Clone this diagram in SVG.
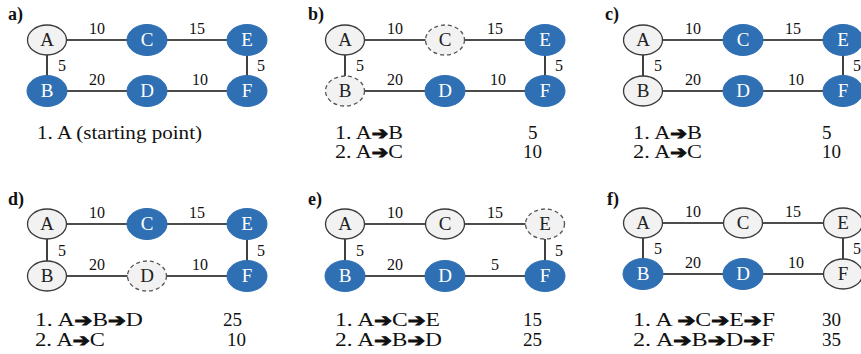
<svg xmlns="http://www.w3.org/2000/svg" width="861" height="354" viewBox="0 0 861 354" font-family="Liberation Serif">
<style>
.lt{fill:#f2f2f2;stroke:#3a3a3a;stroke-width:1.3}
.bl{fill:#2f6fb3;stroke:#2f6fb3;stroke-width:1}
.ds{fill:#f2f2f2;stroke:#555;stroke-width:1.3;stroke-dasharray:4 3}
.e{stroke:#111;stroke-width:1.6}
text{fill:#111}
.nl{font-size:19px;text-anchor:middle;fill:#222}
.nw{fill:#fff}
.w{font-size:16px}
.m{text-anchor:middle}
.p{font-size:18px;font-weight:bold}
.t{font-size:19px}
.ar{font-family:'DejaVu Sans',sans-serif;font-weight:bold;font-size:17px;stroke:#111;stroke-width:1}
</style>
<rect width="861" height="354" fill="#fff"/>

<!-- Panel a -->
<g id="panel-a" transform="translate(47,40)" font-family="Liberation Serif">
<text class="p" x="-39" y="-20">a)</text>
<g id="a-edges">
<line class="e" x1="0" y1="0" x2="200" y2="0"/>
<line class="e" x1="0" y1="51" x2="200" y2="51"/>
<line class="e" x1="0" y1="0" x2="0" y2="51"/>
<line class="e" x1="200" y1="0" x2="200" y2="51"/>
<text class="w m" x="50" y="-6">10</text>
<text class="w m" x="150" y="-6">15</text>
<text class="w" x="11" y="31">5</text>
<text class="w m" x="50" y="45">20</text>
<text class="w m" x="153" y="45">10</text>
<text class="w" x="210" y="31">5</text>
</g>
<g id="a-A"><ellipse class="lt" cx="0" cy="0" rx="19.5" ry="15"/><text class="nl" x="0" y="6">A</text></g>
<g id="a-C"><ellipse class="bl" cx="100" cy="0" rx="20" ry="15.5"/><text class="nl nw" x="100" y="6">C</text></g>
<g id="a-E"><ellipse class="bl" cx="200" cy="0" rx="20" ry="15.5"/><text class="nl nw" x="200" y="6">E</text></g>
<g id="a-B"><ellipse class="bl" cx="0" cy="51" rx="20" ry="15.5"/><text class="nl nw" x="0" y="57">B</text></g>
<g id="a-D"><ellipse class="bl" cx="100" cy="51" rx="20" ry="15.5"/><text class="nl nw" x="100" y="57">D</text></g>
<g id="a-F"><ellipse class="bl" cx="200" cy="51" rx="20" ry="15.5"/><text class="nl nw" x="200" y="57">F</text></g>
<text class="t" x="-10" y="99" textLength="165" lengthAdjust="spacingAndGlyphs">1. A (starting point)</text>
</g>

<!-- Panel b -->
<g id="panel-b" transform="translate(345,40)" font-family="Liberation Serif">
<text class="p" x="-37" y="-20">b)</text>
<g id="b-edges">
<line class="e" x1="0" y1="0" x2="200" y2="0"/>
<line class="e" x1="0" y1="51" x2="200" y2="51"/>
<line class="e" x1="0" y1="0" x2="0" y2="51"/>
<line class="e" x1="200" y1="0" x2="200" y2="51"/>
<text class="w m" x="50" y="-6">10</text>
<text class="w m" x="150" y="-6">15</text>
<text class="w" x="11" y="31">5</text>
<text class="w m" x="50" y="45">20</text>
<text class="w m" x="153" y="45">10</text>
<text class="w" x="210" y="31">5</text>
</g>
<g id="b-A"><ellipse class="lt" cx="0" cy="0" rx="19.5" ry="15"/><text class="nl" x="0" y="6">A</text></g>
<g id="b-C"><ellipse class="ds" cx="100" cy="0" rx="19.5" ry="15"/><text class="nl" x="100" y="6">C</text></g>
<g id="b-E"><ellipse class="bl" cx="200" cy="0" rx="20" ry="15.5"/><text class="nl nw" x="200" y="6">E</text></g>
<g id="b-B"><ellipse class="ds" cx="0" cy="51" rx="19.5" ry="15"/><text class="nl" x="0" y="57">B</text></g>
<g id="b-D"><ellipse class="bl" cx="100" cy="51" rx="20" ry="15.5"/><text class="nl nw" x="100" y="57">D</text></g>
<g id="b-F"><ellipse class="bl" cx="200" cy="51" rx="20" ry="15.5"/><text class="nl nw" x="200" y="57">F</text></g>
<text class="t" x="-10" y="99" textLength="68" lengthAdjust="spacingAndGlyphs">1. A<tspan class="ar">➔</tspan>B</text>
<text class="t" x="-10" y="118" textLength="68" lengthAdjust="spacingAndGlyphs">2. A<tspan class="ar">➔</tspan>C</text>
<text class="t" x="183" y="99">5</text>
<text class="t" x="178" y="118">10</text>
</g>

<!-- Panel c -->
<g id="panel-c" transform="translate(643,40)" font-family="Liberation Serif">
<text class="p" x="-38" y="-20">c)</text>
<g id="c-edges">
<line class="e" x1="0" y1="0" x2="200" y2="0"/>
<line class="e" x1="0" y1="51" x2="200" y2="51"/>
<line class="e" x1="0" y1="0" x2="0" y2="51"/>
<line class="e" x1="200" y1="0" x2="200" y2="51"/>
<text class="w m" x="50" y="-6">10</text>
<text class="w m" x="150" y="-6">15</text>
<text class="w" x="11" y="31">5</text>
<text class="w m" x="50" y="45">20</text>
<text class="w m" x="153" y="45">10</text>
<text class="w" x="210" y="31">5</text>
</g>
<g id="c-A"><ellipse class="lt" cx="0" cy="0" rx="19.5" ry="15"/><text class="nl" x="0" y="6">A</text></g>
<g id="c-C"><ellipse class="bl" cx="100" cy="0" rx="20" ry="15.5"/><text class="nl nw" x="100" y="6">C</text></g>
<g id="c-E"><ellipse class="bl" cx="200" cy="0" rx="20" ry="15.5"/><text class="nl nw" x="200" y="6">E</text></g>
<g id="c-B"><ellipse class="lt" cx="0" cy="51" rx="19.5" ry="15"/><text class="nl" x="0" y="57">B</text></g>
<g id="c-D"><ellipse class="bl" cx="100" cy="51" rx="20" ry="15.5"/><text class="nl nw" x="100" y="57">D</text></g>
<g id="c-F"><ellipse class="bl" cx="200" cy="51" rx="20" ry="15.5"/><text class="nl nw" x="200" y="57">F</text></g>
<text class="t" x="-10" y="99" textLength="69" lengthAdjust="spacingAndGlyphs">1. A<tspan class="ar">➔</tspan>B</text>
<text class="t" x="-10" y="118" textLength="69" lengthAdjust="spacingAndGlyphs">2. A<tspan class="ar">➔</tspan>C</text>
<text class="t" x="179" y="99">5</text>
<text class="t" x="179" y="118">10</text>
</g>

<!-- Panel d -->
<g id="panel-d" transform="translate(47,224)" font-family="Liberation Serif">
<text class="p" x="-39" y="-19">d)</text>
<g id="d-edges">
<line class="e" x1="0" y1="0" x2="200" y2="0"/>
<line class="e" x1="0" y1="52" x2="200" y2="52"/>
<line class="e" x1="0" y1="0" x2="0" y2="52"/>
<line class="e" x1="200" y1="0" x2="200" y2="52"/>
<text class="w m" x="50" y="-6">10</text>
<text class="w m" x="150" y="-6">15</text>
<text class="w" x="11" y="32">5</text>
<text class="w m" x="50" y="46">20</text>
<text class="w m" x="153" y="46">10</text>
<text class="w" x="210" y="32">5</text>
</g>
<g id="d-A"><ellipse class="lt" cx="0" cy="0" rx="19.5" ry="15"/><text class="nl" x="0" y="6">A</text></g>
<g id="d-C"><ellipse class="bl" cx="100" cy="0" rx="20" ry="15.5"/><text class="nl nw" x="100" y="6">C</text></g>
<g id="d-E"><ellipse class="bl" cx="200" cy="0" rx="20" ry="15.5"/><text class="nl nw" x="200" y="6">E</text></g>
<g id="d-B"><ellipse class="lt" cx="0" cy="52" rx="19.5" ry="15"/><text class="nl" x="0" y="58">B</text></g>
<g id="d-D"><ellipse class="ds" cx="100" cy="52" rx="19.5" ry="15"/><text class="nl" x="100" y="58">D</text></g>
<g id="d-F"><ellipse class="bl" cx="200" cy="52" rx="20" ry="15.5"/><text class="nl nw" x="200" y="58">F</text></g>
<text class="t" x="-12" y="102" textLength="108" lengthAdjust="spacingAndGlyphs">1. A<tspan class="ar">➔</tspan>B<tspan class="ar">➔</tspan>D</text>
<text class="t" x="-12" y="122" textLength="70" lengthAdjust="spacingAndGlyphs">2. A<tspan class="ar">➔</tspan>C</text>
<text class="t" x="176" y="102">25</text>
<text class="t" x="180" y="122">10</text>
</g>

<!-- Panel e -->
<g id="panel-e" transform="translate(345,224)" font-family="Liberation Serif">
<text class="p" x="-37" y="-19">e)</text>
<g id="e-edges">
<line class="e" x1="0" y1="0" x2="200" y2="0"/>
<line class="e" x1="0" y1="52" x2="200" y2="52"/>
<line class="e" x1="0" y1="0" x2="0" y2="52"/>
<line class="e" x1="200" y1="0" x2="200" y2="52"/>
<text class="w m" x="50" y="-6">10</text>
<text class="w m" x="150" y="-6">15</text>
<text class="w" x="11" y="32">5</text>
<text class="w m" x="50" y="46">20</text>
<text class="w m" x="150" y="46">5</text>
<text class="w" x="210" y="32">5</text>
</g>
<g id="e-A"><ellipse class="lt" cx="0" cy="0" rx="19.5" ry="15"/><text class="nl" x="0" y="6">A</text></g>
<g id="e-C"><ellipse class="lt" cx="100" cy="0" rx="19.5" ry="15"/><text class="nl" x="100" y="6">C</text></g>
<g id="e-E"><ellipse class="ds" cx="200" cy="0" rx="19.5" ry="15"/><text class="nl" x="200" y="6">E</text></g>
<g id="e-B"><ellipse class="bl" cx="0" cy="52" rx="20" ry="15.5"/><text class="nl nw" x="0" y="58">B</text></g>
<g id="e-D"><ellipse class="bl" cx="100" cy="52" rx="20" ry="15.5"/><text class="nl nw" x="100" y="58">D</text></g>
<g id="e-F"><ellipse class="bl" cx="200" cy="52" rx="20" ry="15.5"/><text class="nl nw" x="200" y="58">F</text></g>
<text class="t" x="-10" y="102" textLength="105" lengthAdjust="spacingAndGlyphs">1. A<tspan class="ar">➔</tspan>C<tspan class="ar">➔</tspan>E</text>
<text class="t" x="-10" y="122" textLength="107" lengthAdjust="spacingAndGlyphs">2. A<tspan class="ar">➔</tspan>B<tspan class="ar">➔</tspan>D</text>
<text class="t" x="178" y="102">15</text>
<text class="t" x="178" y="122">25</text>
</g>

<!-- Panel f -->
<g id="panel-f" transform="translate(643,223)" font-family="Liberation Serif">
<text class="p" x="-36" y="-18">f)</text>
<g id="f-edges">
<line class="e" x1="0" y1="0" x2="200" y2="0"/>
<line class="e" x1="0" y1="51" x2="200" y2="51"/>
<line class="e" x1="0" y1="0" x2="0" y2="51"/>
<line class="e" x1="200" y1="0" x2="200" y2="51"/>
<text class="w m" x="50" y="-6">10</text>
<text class="w m" x="150" y="-6">15</text>
<text class="w" x="11" y="31">5</text>
<text class="w m" x="50" y="45">20</text>
<text class="w m" x="153" y="45">10</text>
<text class="w" x="210" y="31">5</text>
</g>
<g id="f-A"><ellipse class="lt" cx="0" cy="0" rx="19.5" ry="15"/><text class="nl" x="0" y="6">A</text></g>
<g id="f-C"><ellipse class="lt" cx="100" cy="0" rx="19.5" ry="15"/><text class="nl" x="100" y="6">C</text></g>
<g id="f-E"><ellipse class="lt" cx="200" cy="0" rx="19.5" ry="15"/><text class="nl" x="200" y="6">E</text></g>
<g id="f-B"><ellipse class="bl" cx="0" cy="51" rx="20" ry="15.5"/><text class="nl nw" x="0" y="57">B</text></g>
<g id="f-D"><ellipse class="bl" cx="100" cy="51" rx="20" ry="15.5"/><text class="nl nw" x="100" y="57">D</text></g>
<g id="f-F"><ellipse class="lt" cx="200" cy="51" rx="19.5" ry="15"/><text class="nl" x="200" y="57">F</text></g>
<text class="t" x="-10" y="103" textLength="142" lengthAdjust="spacingAndGlyphs">1. A <tspan class="ar">➔</tspan>C<tspan class="ar">➔</tspan>E<tspan class="ar">➔</tspan>F</text>
<text class="t" x="-10" y="123" textLength="142" lengthAdjust="spacingAndGlyphs">2. A<tspan class="ar">➔</tspan>B<tspan class="ar">➔</tspan>D<tspan class="ar">➔</tspan>F</text>
<text class="t" x="179" y="103">30</text>
<text class="t" x="179" y="123">35</text>
</g>
</svg>
